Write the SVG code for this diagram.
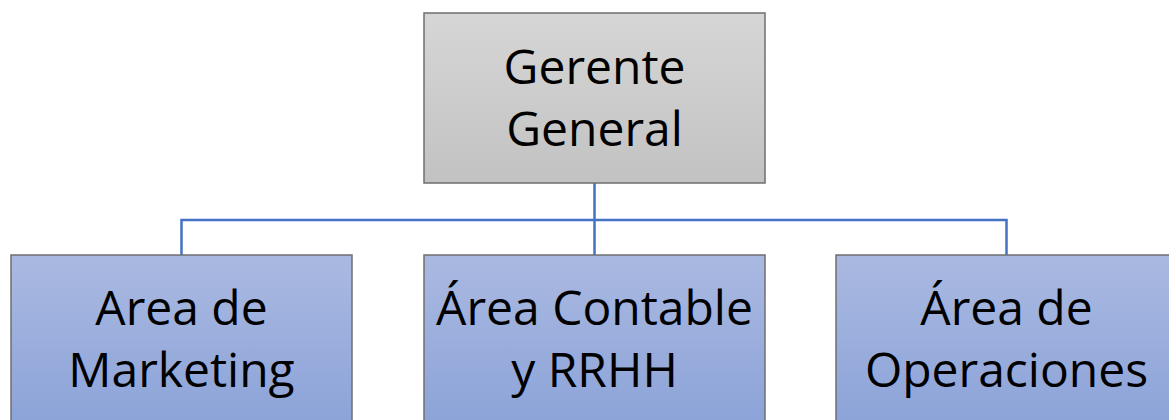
<svg xmlns="http://www.w3.org/2000/svg" width="1169" height="420" viewBox="0 0 1169 420">
<defs>
<linearGradient id="gGray" x1="0" y1="0" x2="0" y2="1">
<stop offset="0" stop-color="#d6d6d6"/>
<stop offset="1" stop-color="#c2c2c2"/>
</linearGradient>
<linearGradient id="gBlue" x1="0" y1="0" x2="0" y2="1">
<stop offset="0" stop-color="#aab9e1"/>
<stop offset="1" stop-color="#8aa2d8"/>
</linearGradient>
<style>
.box{stroke:#6f6f6f;stroke-width:1.5}
.t{font-family:"Open Sans","Noto Sans",sans-serif;font-size:48px;fill:#000;text-anchor:middle}
.c{fill:none;stroke:#4472c4;stroke-width:2.5}
</style>
</defs>
<rect width="1169" height="420" fill="#ffffff"/>
<g id="connectors">
<path class="c" d="M594.5 183 V220 M181.5 255 V220 H1006.5 V255 M594.5 220 V255"/>
</g>
<g id="gerente">
<rect class="box" x="424" y="13" width="341" height="170" fill="url(#gGray)"/>
<text class="t" x="594.5" y="84">Gerente</text>
<text class="t" x="594.5" y="146">General</text>
</g>
<g id="marketing">
<rect class="box" x="11" y="255" width="341" height="180" fill="url(#gBlue)"/>
<text class="t" x="181.5" y="325">Area de</text>
<text class="t" x="181.5" y="387">Marketing</text>
</g>
<g id="contable">
<rect class="box" x="424" y="255" width="341" height="180" fill="url(#gBlue)"/>
<text class="t" x="594.5" y="325">Área Contable</text>
<text class="t" x="594.5" y="387">y RRHH</text>
</g>
<g id="operaciones">
<rect class="box" x="836" y="255" width="341" height="180" fill="url(#gBlue)"/>
<text class="t" x="1006.5" y="325">Área de</text>
<text class="t" x="1006.5" y="387">Operaciones</text>
</g>
</svg>
